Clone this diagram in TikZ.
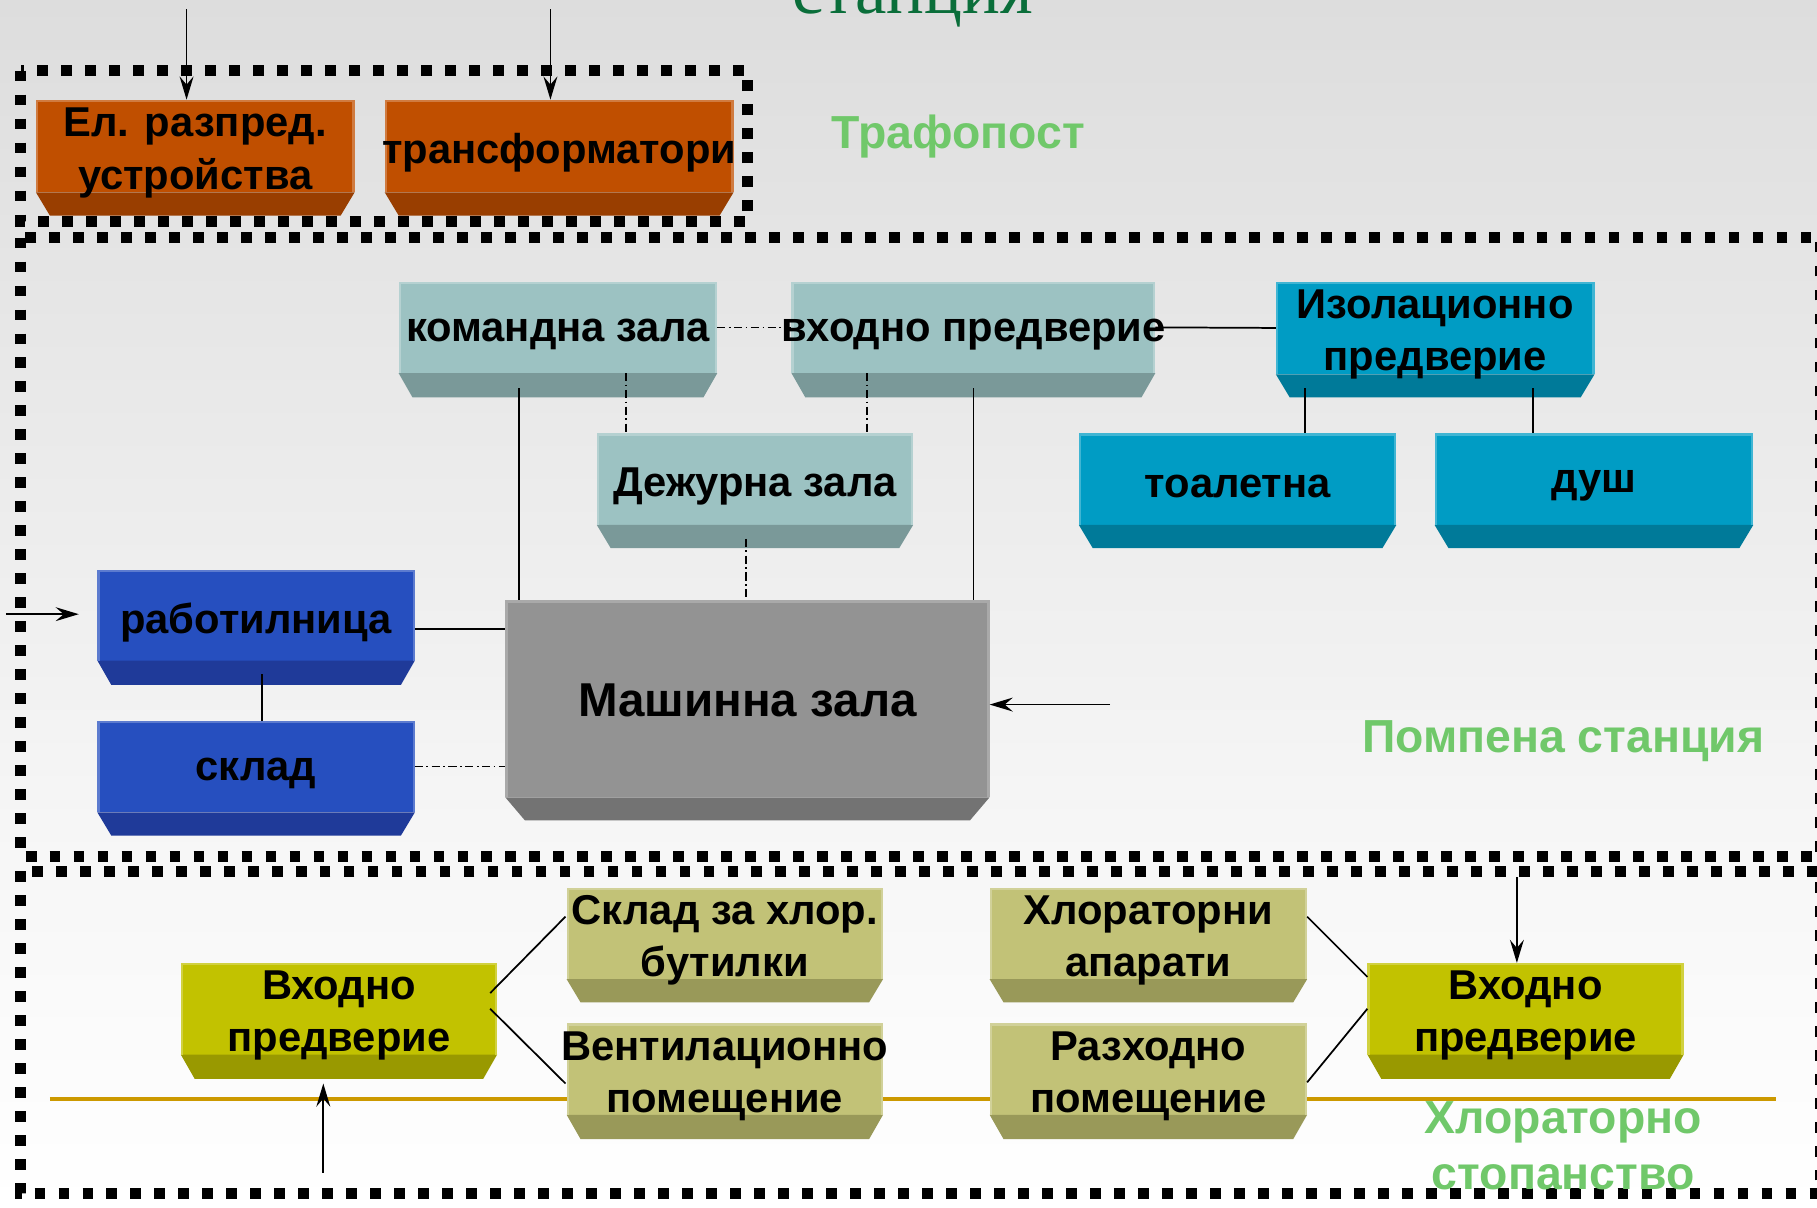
\documentclass[tikz,border=0pt]{standalone}
\usepackage{fontspec}
\setmainfont{Liberation Sans}
\newfontfamily\serifcyr{Liberation Serif}
\usetikzlibrary{arrows.meta,fit,calc}

\definecolor{orF}{RGB}{192,79,0}
\definecolor{orB}{RGB}{153,62,0}
\definecolor{tlF}{RGB}{156,194,194}
\definecolor{tlB}{RGB}{122,153,153}
\definecolor{cyF}{RGB}{0,156,196}
\definecolor{cyB}{RGB}{0,122,153}
\definecolor{gyF}{RGB}{147,147,147}
\definecolor{gyB}{RGB}{115,115,115}
\definecolor{blF}{RGB}{38,79,191}
\definecolor{blB}{RGB}{31,58,153}
\definecolor{olF}{RGB}{194,194,0}
\definecolor{olB}{RGB}{153,153,0}
\definecolor{khF}{RGB}{194,194,119}
\definecolor{khB}{RGB}{153,153,89}
\definecolor{lblgreen}{RGB}{112,200,106}
\definecolor{titlegreen}{RGB}{10,110,58}
\definecolor{goldline}{RGB}{204,153,0}
\definecolor{bgA}{RGB}{221,221,221}
\definecolor{bgB}{RGB}{247,247,247}

\tikzset{
  zone/.style={line width=9.3pt, dash pattern=on 9.3pt off 11.4pt, black},
  boxtext/.style={font=\bfseries\fontsize{36}{45}\selectfont, align=center, inner sep=0pt, text=black, yshift=-6pt},
  zonelabel/.style={font=\bfseries\fontsize{40}{48}\selectfont, align=center, inner sep=0pt, text=lblgreen},
  solidcon/.style={line width=1.5pt, black},
  dd/.style={line width=1.5pt, black, dash pattern=on 7pt off 3pt on 1.5pt off 3pt},
  arr/.style={line width=1.5pt, black, -{Stealth[length=20pt,width=12pt,inset=7pt]}},
}

% name, face colour, base colour, NW corner, SE corner, depth, inset, text
\newcommand\blok[8]{%
  \node[rectangle, inner sep=0pt, outer sep=0pt, fill=#2, fit={(#4)(#5)}] (#1) {};
  \fill[#3] (#1.south west) -- (#1.south east) -- ([xshift=-#7pt,yshift=-#6pt]#1.south east)
     -- ([xshift=#7pt,yshift=-#6pt]#1.south west) -- cycle;
  \draw[#2!75!white, line width=2pt] ([xshift=1pt]#1.south west) -- ([shift={(1pt,-1pt)}]#1.north west)
     -- ([shift={(-1pt,-1pt)}]#1.north east) -- ([xshift=-1pt]#1.south east);
  \node[boxtext] at (#1.center) {#8};
}

\begin{document}
\begin{tikzpicture}[x=1pt,y=-1pt]
\useasboundingbox (0,0) rectangle (1568,1042);
\clip (0,0) rectangle (1568,1042);

% background
\shade[top color=bgA, bottom color=bgB] (0,0) rectangle (1568,740);
\fill[bgB] (0,739) rectangle (1568,750);
\shade[top color=bgB, bottom color=white] (0,749) rectangle (1568,1042);

% title remnant (cut off at the top edge, as in the reference)
\node[anchor=base, inner sep=0pt, font=\serifcyr\fontsize{61}{70}\selectfont, text=titlegreen] (title) at (787.5,11.5) {станция};

% zones
\draw[zone] (18,61) rectangle (645,191);
\draw[zone] (18,205) rectangle (1571,739);
\draw[zone] (18,752) rectangle (1571,1030);

% gold line (behind boxes)
\coordinate (gl1) at (43,948);
\coordinate (gl2) at (1533,948);
\draw[goldline, line width=3.5pt] (gl1) -- (gl2);

% Trafopost
\blok{el}{orF}{orB}{31,86}{306,166}{20}{12}{Ел. разпред.\\устройства}
\blok{tr}{orF}{orB}{332,86}{633,166}{20}{12}{трансформатори}

% Pompena stantsiya
\blok{kom}{tlF}{tlB}{344,243}{619,322}{21}{12}{командна зала}
\blok{vh}{tlF}{tlB}{683,243}{997,322}{21}{12}{входно предверие}
\blok{dej}{tlF}{tlB}{515,374}{788,453}{20}{12}{Дежурна зала}
\blok{izo}{cyF}{cyB}{1101,243}{1376,323}{20}{12}{Изолационно\\предверие}
\blok{toa}{cyF}{cyB}{931,374}{1205,453}{20}{12}{тоалетна}
\blok{dush}{cyF}{cyB}{1238,374}{1513,453}{20}{12}{душ}
\blok{rab}{blF}{blB}{84,492}{358,570}{21}{12}{работилница}
\blok{skl}{blF}{blB}{84,622}{358,701}{20}{12}{склад}
\node[rectangle, inner sep=0pt, outer sep=0pt, fill=gyF, fit={(436,518)(854,688)}] (mash) {};
\fill[gyB] (mash.south west) -- (mash.south east) -- ([xshift=-17pt,yshift=-20pt]mash.south east)
   -- ([xshift=17pt,yshift=-20pt]mash.south west) -- cycle;
\draw[gyF!80!white, line width=2pt] ([xshift=1pt]mash.south west) -- ([shift={(1pt,-1pt)}]mash.north west)
   -- ([shift={(-1pt,-1pt)}]mash.north east) -- ([xshift=-1pt]mash.south east);
\node[boxtext, yshift=5pt, font=\bfseries\fontsize{41}{48}\selectfont] at (mash.center) {Машинна зала};

% Chlorator
\blok{vl}{olF}{olB}{156,831}{429,910}{21}{12}{Входно\\предверие}
\blok{skh}{khF}{khB}{489,766}{762,845}{20}{12}{Склад за хлор.\\бутилки}
\blok{ven}{khF}{khB}{489,883}{762,962}{21}{12}{Вентилационно\\помещение}
\blok{hla}{khF}{khB}{854,766}{1128,845}{20}{12}{Хлораторни\\апарати}
\blok{raz}{khF}{khB}{854,883}{1128,962}{21}{12}{Разходно\\помещение}
\blok{vr}{olF}{olB}{1180,831}{1453,910}{21}{12}{Входно\\предверие}

% connectors - Trafopost arrows
\coordinate (inel) at (161,8);
\coordinate (intr) at (475,8);
\draw[arr] (inel) -- (inel |- el.north);
\draw[arr] (intr) -- (intr |- tr.north);

% connectors - Pompena
\draw[dd] (kom.east) -- (vh.west);
\draw[solidcon] (vh.east) -- (izo.west);
\draw[dd] ([xshift=58.5pt]kom.south) -- ([xshift=58.5pt]kom.south |- dej.north);
\draw[dd] ([xshift=-92pt]vh.south) -- ([xshift=-92pt]vh.south |- dej.north);
\draw[solidcon] ([xshift=-33.5pt,yshift=-13pt]kom.south) -- ([xshift=-33.5pt]kom.south |- mash.north);
\draw[solidcon] ([yshift=-13pt]vh.south) -- (vh.south |- mash.north);
\draw[dd] ([xshift=-7.5pt,yshift=-12pt]dej.south) -- ([xshift=-7.5pt]dej.south |- mash.north);
\draw[solidcon] ([xshift=-112.5pt,yshift=-12pt]izo.south) -- ([xshift=-112.5pt]izo.south |- toa.north);
\draw[solidcon] ([xshift=84.5pt,yshift=-12pt]izo.south) -- ([xshift=84.5pt]izo.south |- dush.north);
\draw[solidcon] ([yshift=-12pt]rab.east) -- ([yshift=-12pt]rab.east -| mash.west);
\draw[solidcon] ([xshift=5pt,yshift=-12pt]rab.south) -- ([xshift=5pt]rab.south |- skl.north);
\draw[dd] (skl.east) -- (skl.east -| mash.west);
\coordinate (inrab) at (5,530);
\draw[arr] (inrab) -- ([xshift=-16pt]inrab -| rab.west);
\coordinate (inmash) at (958,608);
\draw[arr] (inmash) -- (inmash -| mash.east);

% connectors - Chlorator
\draw[solidcon] ([shift={(-6pt,13.5pt)}]vl.east) -- ([shift={(-1pt,14.5pt)}]skh.west);
\draw[solidcon] ([xshift=-6pt]vl.east) -- ([shift={(-1pt,-12.5pt)}]ven.west);
\draw[solidcon] ([yshift=14.5pt]hla.east) -- ([yshift=27.5pt]vr.west);
\draw[solidcon] ([yshift=-11.5pt]raz.east) -- (vr.west);
\coordinate (invl) at (279,1012);
\draw[arr] (invl) -- ([yshift=-25pt]invl |- vl.south);
\coordinate (invr) at (1309,757);
\draw[arr] (invr) -- (invr |- vr.north);

% zone labels
\node[zonelabel] (lbltrafo) at (827,118) {Трафопост};
\node[zonelabel] (lblpomp) at (1349,640) {Помпена станция};
\node[zonelabel] (lblhlor) at (1349,989) {Хлораторно\\стопанство};
\end{tikzpicture}
\end{document}
